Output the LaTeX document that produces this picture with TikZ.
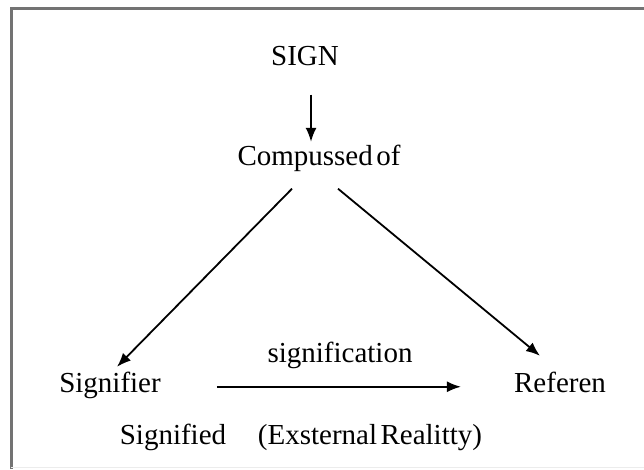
\documentclass[tikz,border=0pt]{standalone}
\usepackage{fontspec}
\setmainfont{Liberation Serif}
\usetikzlibrary{arrows.meta}

\begin{document}
\begin{tikzpicture}[
  x=1pt, y=-1pt,
  font=\fontsize{29}{34}\selectfont,
  word/.style={anchor=base, inner sep=0pt, text height=0.7em, text depth=0.25em},
  frame/.style={draw=black!55, line width=3pt},
  arrow/.style={-{Latex[length=14pt,width=11pt]}, line width=1.8pt}
]
\useasboundingbox (0,0) rectangle (644,469);
\draw[frame] (11,469) -- (11,8) -- (644,8);
\draw[gray!15, line width=1pt] (11,467) -- (644,467);

\node[word] (sign) at (305,65) {SIGN};
\node[word] (comp) at (319,165) {Compussed\hspace{0.12em}of};
\node[word] (signifier) at (110,392) {Signifier};
\node[word] (referen) at (560,392) {Referen};
\node[word] (signif) at (340,362) {signification};
\node[word] (signified) at (173,444) {Signified};
\node[word] (external) at (370,444) {(Exsternal\hspace{0.12em}Realitty)};

\draw[arrow] ([xshift=6pt,yshift=-27pt]sign.south) -- ([xshift=-8pt,yshift=16pt]comp.north);
\draw[arrow] ([xshift=-27pt,yshift=-21pt]comp.south) -- ([xshift=7pt,yshift=18pt]signifier.north);
\draw[arrow] ([xshift=19pt,yshift=-21pt]comp.south) -- ([xshift=-20pt,yshift=29pt]referen.north);
\draw[arrow] ([xshift=56pt,yshift=3pt]signifier.east) -- ([xshift=-53pt,yshift=3pt]referen.west);
\end{tikzpicture}
\end{document}
